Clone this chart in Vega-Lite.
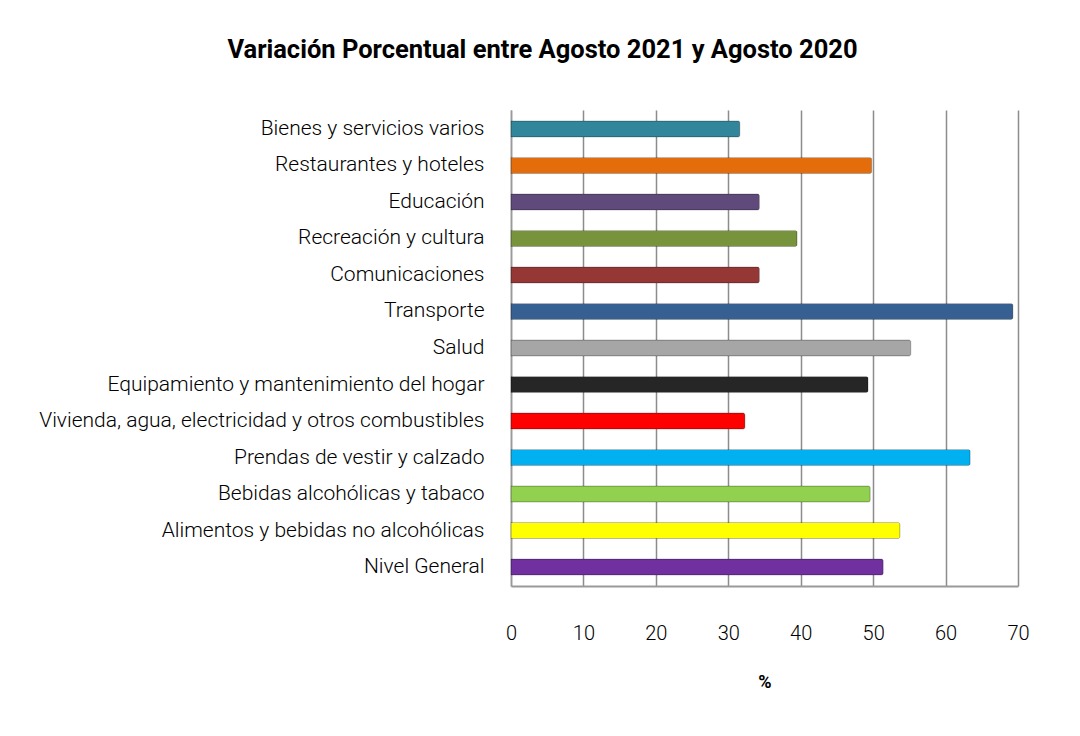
{
  "$schema": "https://vega.github.io/schema/vega-lite/v6.json",
  "width": 507,
  "height": 476,
  "autosize": {"type": "none"},
  "padding": {"left": 511, "top": 110, "right": 62, "bottom": 150},
  "background": "white",
  "title": {
    "text": "Variación Porcentual entre Agosto 2021 y Agosto 2020",
    "anchor": "middle",
    "frame": "group",
    "dx": -222,
    "offset": 47,
    "fontSize": 25.5,
    "fontWeight": "bold",
    "font": "Roboto",
    "color": "#000000"
  },
  "data": {
    "values": [
      {"rubro": "Bienes y servicios varios", "valor": 31.6, "color": "#31869B"},
      {"rubro": "Restaurantes y hoteles", "valor": 49.8, "color": "#E46C0A"},
      {"rubro": "Educación", "valor": 34.3, "color": "#604A7B"},
      {"rubro": "Recreación y cultura", "valor": 39.5, "color": "#77933C"},
      {"rubro": "Comunicaciones", "valor": 34.3, "color": "#953735"},
      {"rubro": "Transporte", "valor": 69.3, "color": "#376092"},
      {"rubro": "Salud", "valor": 55.2, "color": "#A6A6A6"},
      {"rubro": "Equipamiento y mantenimiento del hogar", "valor": 49.3, "color": "#262626"},
      {"rubro": "Vivienda, agua, electricidad y otros combustibles", "valor": 32.3, "color": "#FF0000"},
      {"rubro": "Prendas de vestir y calzado", "valor": 63.4, "color": "#00B0F0"},
      {"rubro": "Bebidas alcohólicas y tabaco", "valor": 49.6, "color": "#92D050"},
      {"rubro": "Alimentos y bebidas no alcohólicas", "valor": 53.7, "color": "#FFFF00"},
      {"rubro": "Nivel General", "valor": 51.4, "color": "#7030A0"}
    ]
  },
  "config": {
    "view": {"stroke": null},
    "font": "Roboto"
  },
  "mark": {"type": "bar", "cornerRadiusEnd": 2, "stroke": "#00000033", "strokeWidth": 1},
  "encoding": {
    "y": {
      "field": "rubro",
      "type": "nominal",
      "sort": null,
      "scale": {"paddingInner": 0.56, "paddingOuter": 0.3},
      "axis": {
        "title": null,
        "ticks": false,
        "domain": true,
        "domainColor": "#9a9a9a",
        "domainWidth": 1.5,
        "labelPadding": 27,
        "labelFontSize": 21,
        "labelFontWeight": 300,
        "labelColor": "#000000",
        "labelFont": "Roboto",
        "labelLimit": 500,
        "grid": false
      }
    },
    "x": {
      "field": "valor",
      "type": "quantitative",
      "scale": {"domain": [0, 70], "nice": false},
      "axis": {
        "title": "%",
        "titleFontSize": 18,
        "titleFontWeight": "bold",
        "titleFont": "Roboto",
        "titlePadding": 30,
        "titleColor": "#000000",
        "values": [0, 10, 20, 30, 40, 50, 60, 70],
        "ticks": false,
        "domain": true,
        "domainColor": "#9a9a9a",
        "domainWidth": 2,
        "labelPadding": 37,
        "labelFontSize": 20,
        "labelFontWeight": 300,
        "labelColor": "#000000",
        "labelFont": "Roboto",
        "labelFlush": false,
        "grid": true,
        "gridColor": "#8c8c8c",
        "gridWidth": 1.5
      }
    },
    "color": {"field": "color", "type": "nominal", "scale": null, "legend": null}
  }
}
